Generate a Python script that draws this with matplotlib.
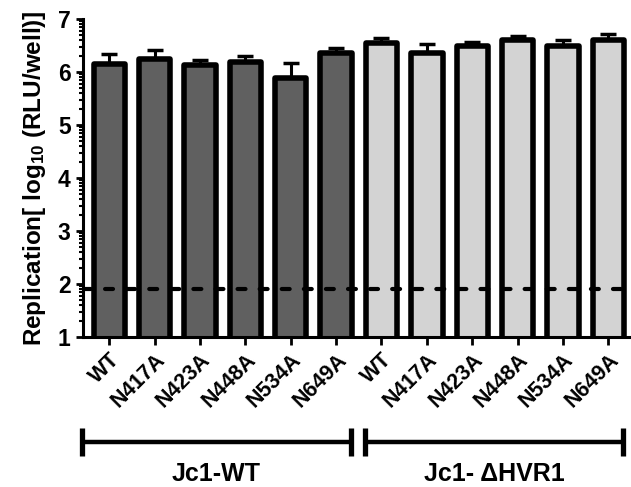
import matplotlib
matplotlib.use('Agg')
import matplotlib.pyplot as plt
import matplotlib.transforms as mtransforms
import numpy as np

# dados (log10 RLU/well)
labels = ['WT', 'N417A', 'N423A', 'N448A', 'N534A', 'N649A',
          'WT', 'N417A', 'N423A', 'N448A', 'N534A', 'N649A']
values = [6.16, 6.24, 6.14, 6.19, 5.89, 6.36,
          6.54, 6.36, 6.49, 6.60, 6.49, 6.60]
errors = [0.18, 0.18, 0.08, 0.12, 0.28, 0.09,
          0.10, 0.16, 0.07, 0.08, 0.12, 0.12]
groups = ['Jc1-WT', 'Jc1- ΔHVR1']
group_size = 6
cutoff = 1.9


def main():
    plt.rcParams['font.family'] = ['Liberation Sans', 'DejaVu Sans']
    plt.rcParams['font.weight'] = 'bold'
    plt.rcParams['mathtext.fontset'] = 'custom'
    plt.rcParams['mathtext.rm'] = 'Liberation Sans:bold'
    plt.rcParams['mathtext.it'] = 'Liberation Sans:bold'
    plt.rcParams['mathtext.bf'] = 'Liberation Sans:bold'

    fig = plt.figure(figsize=(6.31, 4.87), dpi=100)
    ax = fig.add_axes([83 / 631, 1 - 337 / 487, (631 - 83) / 631, (337 - 19) / 487])

    x = np.arange(len(values))
    colors = ['#606060'] * group_size + ['#d3d3d3'] * group_size

    ax.errorbar(x, values, yerr=[np.zeros(len(errors)), errors], fmt='none',
                ecolor='black', elinewidth=2.2, capsize=5.5, capthick=2.5, zorder=2)
    bars = ax.bar(x, values, width=0.69, color=colors, edgecolor='black',
                  linewidth=4, zorder=3)
    for b in bars:
        b.set_joinstyle('round')

    # linha de detecção
    ax.axhline(cutoff, color='black', lw=3, ls=(0, (1.9, 3.4)),
               dash_capstyle='round', zorder=4)

    ax.set_xlim(-0.58, 11.5)
    ax.set_ylim(1, 7)
    ax.set_yticks(range(1, 8))
    minors = [k + np.log10(m) for k in range(1, 7) for m in range(2, 10)]
    ax.set_yticks(minors, minor=True)
    ax.set_yticklabels([str(v) for v in range(1, 8)], fontsize=16.5, fontweight='bold')
    ax.set_xticks(x)
    ax.set_xticklabels(labels, rotation=45, ha='right', rotation_mode='anchor',
                       fontsize=15.5, fontweight='bold')

    for s in ['top', 'right']:
        ax.spines[s].set_visible(False)
    for s in ['left', 'bottom']:
        ax.spines[s].set_linewidth(2.2)
        ax.spines[s].set_zorder(5)
    ax.tick_params(axis='y', which='major', length=5, width=2, pad=4)
    ax.tick_params(axis='y', which='minor', length=3, width=1.5)
    ax.tick_params(axis='x', which='major', length=6, width=2, pad=3)

    fig.text(35 / 631, 1 - 178 / 487, r'Replication[ log$_{\mathregular{10}}$ (RLU/well)]',
             rotation=90, ha='center', va='center', fontsize=17.5, fontweight='bold')

    # colchetes dos grupos
    trans = mtransforms.blended_transform_factory(ax.transData, ax.transAxes)
    y_line = -0.33
    y_half = 0.044
    for i, name in enumerate(groups):
        start = i * group_size - 0.61 + (0.25 if i else 0)
        end = (i + 1) * group_size - 1 + 0.33
        ax.plot([start, end], [y_line, y_line], color='black', lw=3.2,
                transform=trans, clip_on=False, solid_capstyle='butt')
        for xe in (start, end):
            ax.plot([xe, xe], [y_line - y_half, y_line + y_half], color='black',
                    lw=3.8, transform=trans, clip_on=False, solid_capstyle='butt')
        ax.text((start + end) / 2, -0.43, name, transform=trans, ha='center',
                va='center', fontsize=18, fontweight='bold')

    fig.savefig('out.png', dpi=100)


if __name__ == "__main__":
    main()
